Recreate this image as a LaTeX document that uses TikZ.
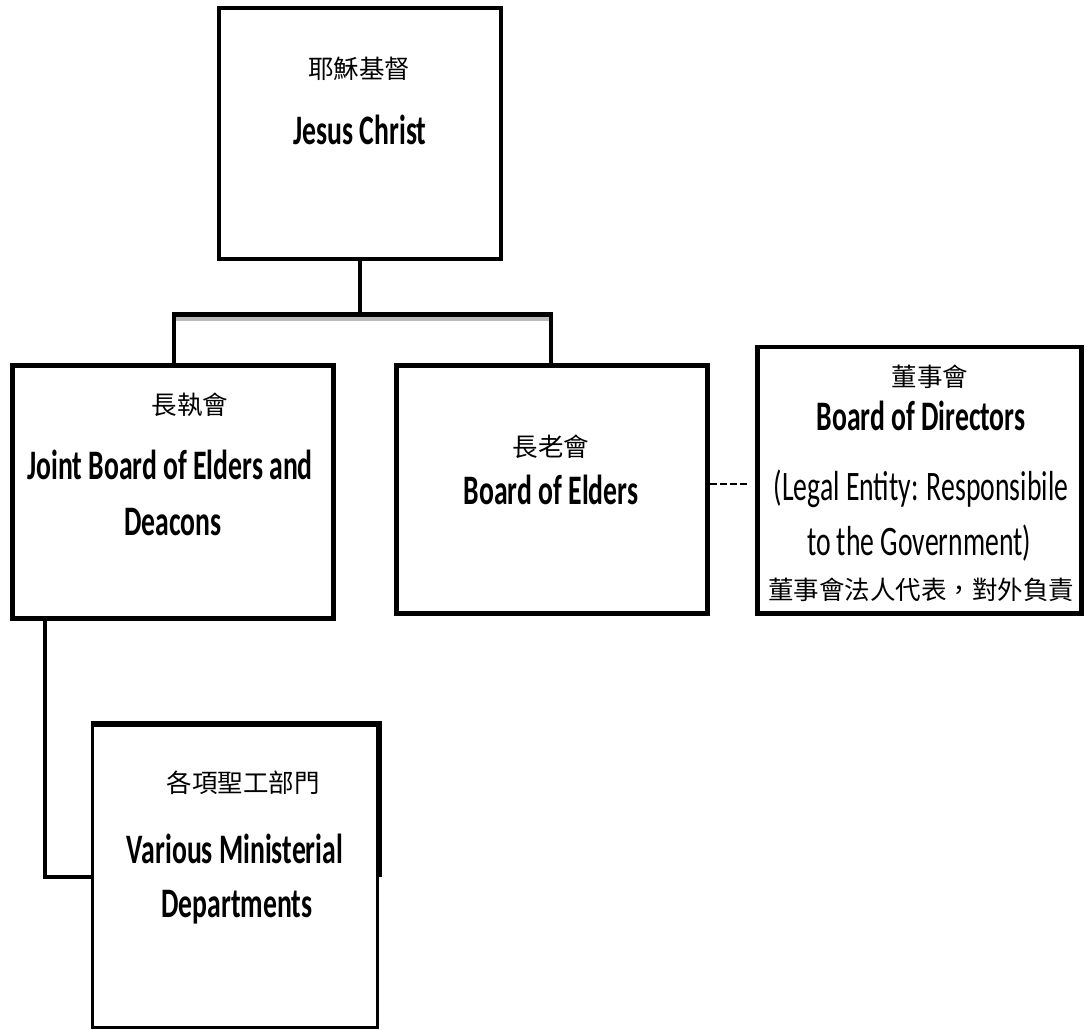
\documentclass[tikz,border=0pt]{standalone}
\usepackage{fontspec}
\newfontfamily\cjk{Noto Sans CJK TC}
\newfontfamily\enb[FakeStretch=0.66]{Carlito}
\tikzset{
  box/.style={draw=black, line width=4.5pt, rectangle, inner sep=0pt},
  thinbox/.style={draw=black, line width=3pt, rectangle, inner sep=0pt},
  conn/.style={draw=black, line width=4.5pt},
  cjkt/.style={font=\cjk\fontsize{25.5}{30}\selectfont, inner sep=0pt},
  bigb/.style={font=\enb\bfseries\fontsize{42}{50}\selectfont, inner sep=0pt, anchor=base},
  regt/.style={font=\enb\fontsize{42}{50}\selectfont, inner sep=0pt, anchor=base},
}
\begin{document}
\begin{tikzpicture}[x=1pt,y=-1pt]
\useasboundingbox[fill=white] (0,0) rectangle (1087,1030);
% boxes
\node[box, minimum width=282pt, minimum height=251pt] (jesus) at (360,133.5) {};
\node[box, minimum width=321pt, minimum height=253pt] (joint) at (173,492) {};
\node[box, minimum width=311pt, minimum height=248pt] (elders) at (552,489.5) {};
\node[box, minimum width=324pt, minimum height=266.5pt] (dir) at (919.5,480.25) {};
\node[thinbox, minimum width=285pt, minimum height=302pt] (mins) at (235,876) {};
% connectors
\coordinate (barL) at (174,314.5);
\coordinate (barR) at (551,314.5);
\coordinate (barLg) at (174,317.5);
\coordinate (barRg) at (551,317.5);
\coordinate (bend) at (45,877);
\coordinate (dash) at (0,484);
\draw[gray!55, line width=6pt] (barLg) -- (barRg);
\draw[conn] (jesus.south) -- (jesus.south |- barL);
\draw[conn, line join=miter] (joint.north -| barL) -- (barL) -- (barR) -- (elders.north -| barR);
\draw[conn, line width=4pt, line join=miter] (joint.south -| bend) -- (bend) -- (mins.west |- bend);
\draw[conn, line width=5pt, line join=miter] (mins.north west) -- (mins.north east) -- (mins.east |- bend);
\draw[black, line width=2pt, dash pattern=on 7pt off 3pt, shorten >=8pt] (elders.east |- dash) -- (dir.west |- dash);
% texts
\node[cjkt] (t1c) at (359,69) {耶穌基督};
\node[bigb] (t1e) at (360,145) {Jesus Christ};
\node[cjkt] (t2c) at (190,405) {長執會};
\node[bigb] (t2e) at (170,479) {Joint Board of Elders and};
\node[bigb] (t2f) at (173,535) {Deacons};
\node[cjkt] (t3c) at (551,447) {長老會};
\node[bigb] (t3e) at (551,504) {Board of Elders};
\node[cjkt] (t4c) at (930,377) {董事會};
\node[bigb] (t4e) at (921,430) {Board of Directors};
\node[regt] (t4f) at (921,500) {(Legal Entity: Responsibile};
\node[regt] (t4g) at (919,555) {to the Government)};
\node[cjkt] (t4h) at (921,590) {董事會法人代表，對外負責};
\node[cjkt] (t5c) at (243,783) {各項聖工部門};
\node[bigb] (t5e) at (235,863) {Various Ministerial};
\node[bigb] (t5f) at (237,917) {Departments};
\end{tikzpicture}
\end{document}
